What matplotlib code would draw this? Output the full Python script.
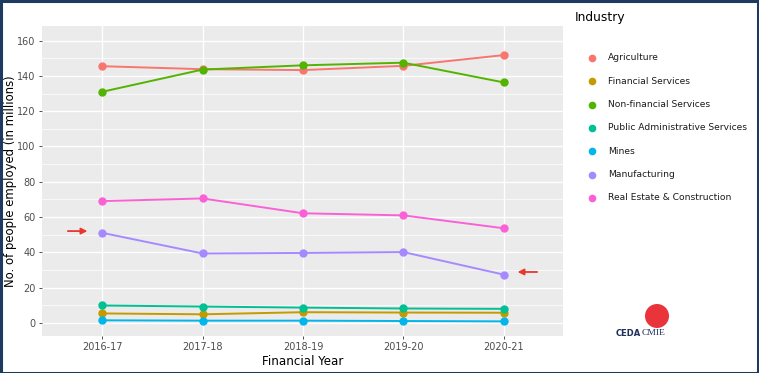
import matplotlib
matplotlib.use("Agg")
import matplotlib.pyplot as plt
from matplotlib.patches import Rectangle, Ellipse

years = ["2016-17", "2017-18", "2018-19", "2019-20", "2020-21"]
industries = ["Agriculture", "Financial Services", "Non-financial Services",
              "Public Administrative Services", "Mines", "Manufacturing",
              "Real Estate & Construction"]
agriculture = [145.5, 143.8, 143.3, 145.7, 151.8]
financial = [5.3, 4.8, 6.0, 5.8, 5.7]
non_financial = [131.0, 143.6, 146.0, 147.5, 136.3]
public_admin = [9.8, 9.2, 8.6, 8.1, 7.9]
mines = [1.4, 1.2, 1.2, 1.0, 0.8]
manufacturing = [51.0, 39.3, 39.6, 40.1, 27.3]
real_estate = [69.0, 70.5, 62.1, 60.9, 53.6]
series = [agriculture, financial, non_financial, public_admin, mines,
          manufacturing, real_estate]
colors = ["#F8766D", "#C49A00", "#53B400", "#00C094", "#00B6EB", "#A58AFF", "#FB61D7"]
yticks = [0, 20, 40, 60, 80, 100, 120, 140, 160]

W, H = 759, 373
fig = plt.figure(figsize=(W / 100, H / 100), dpi=100)
fig.patch.set_facecolor("white")
ax = fig.add_axes([42 / W, 1 - 336 / H, (563 - 42) / W, (336 - 26) / H])
ax.set_facecolor("#EBEBEB")
x = list(range(len(years)))
for vals, c in zip(series, colors):
    ax.plot(x, vals, color=c, lw=1.4, marker="o", ms=5, zorder=3)

ax.set_xlim(-0.6, 4.59)
ax.set_ylim(-7.5, 168.3)
ax.set_xticks(x)
ax.set_xticklabels(years)
ax.set_yticks(yticks)
ax.set_yticks([10, 30, 50, 70, 90, 110, 130, 150], minor=True)
ax.grid(True, which="major", color="white", lw=1.0)
ax.grid(True, which="minor", axis="y", color="white", lw=0.5)
ax.set_axisbelow(True)
for s in ax.spines.values():
    s.set_visible(False)
ax.tick_params(axis="both", which="major", colors="#333333", labelcolor="#4D4D4D",
               labelsize=7, length=2.5, width=0.6, pad=2)
ax.tick_params(axis="both", which="minor", length=0)
ax.set_xlabel("Financial Year", fontsize=8.6, labelpad=2)
ax.set_ylabel("No. of people employed (in millions)", fontsize=8.4, va="center")
ax.yaxis.set_label_coords(-31 / 521, 0.5)

# red arrows
ax.annotate("", xy=(-0.12, 52), xytext=(-0.37, 52),
            arrowprops=dict(arrowstyle="-|>", color="#E8382E", lw=1.3,
                            mutation_scale=9))
ax.annotate("", xy=(4.11, 28.8), xytext=(4.36, 28.8),
            arrowprops=dict(arrowstyle="-|>", color="#E8382E", lw=1.3,
                            mutation_scale=9))

# legend
fig.text(575 / W, 1 - 17 / H, "Industry", fontsize=8.8, va="center", ha="left")
for i, (name, c) in enumerate(zip(industries, colors)):
    yy = 1 - (58 + i * 23.3) / H
    fig.add_artist(plt.Line2D([592 / W], [yy], marker="o", ms=4.5, color=c,
                              transform=fig.transFigure))
    fig.text(608 / W, yy, name, fontsize=6.6, va="center", ha="left", color="#1a1a1a")

# logo
fig.add_artist(Ellipse((657 / W, 1 - 316 / H), 24 / W, 24 / H, transform=fig.transFigure,
                       facecolor="#E8343A", edgecolor="none"))
fig.text(616 / W, 1 - 333 / H, "CEDA", fontsize=6, fontweight="bold",
         color="#1f2f5a", va="center", ha="left")
fig.text(642 / W, 1 - 333 / H, "CMIE", fontsize=6.8, family="Liberation Serif",
         color="#1f2f5a", va="center", ha="left")

# border
fig.add_artist(Rectangle((0.5 / W, 0.5 / H), 1 - 1.5 / W, 1 - 1.5 / H,
                         transform=fig.transFigure, fill=False,
                         edgecolor="#1F3A5F", lw=2.2))

fig.savefig("out.png", dpi=100)
